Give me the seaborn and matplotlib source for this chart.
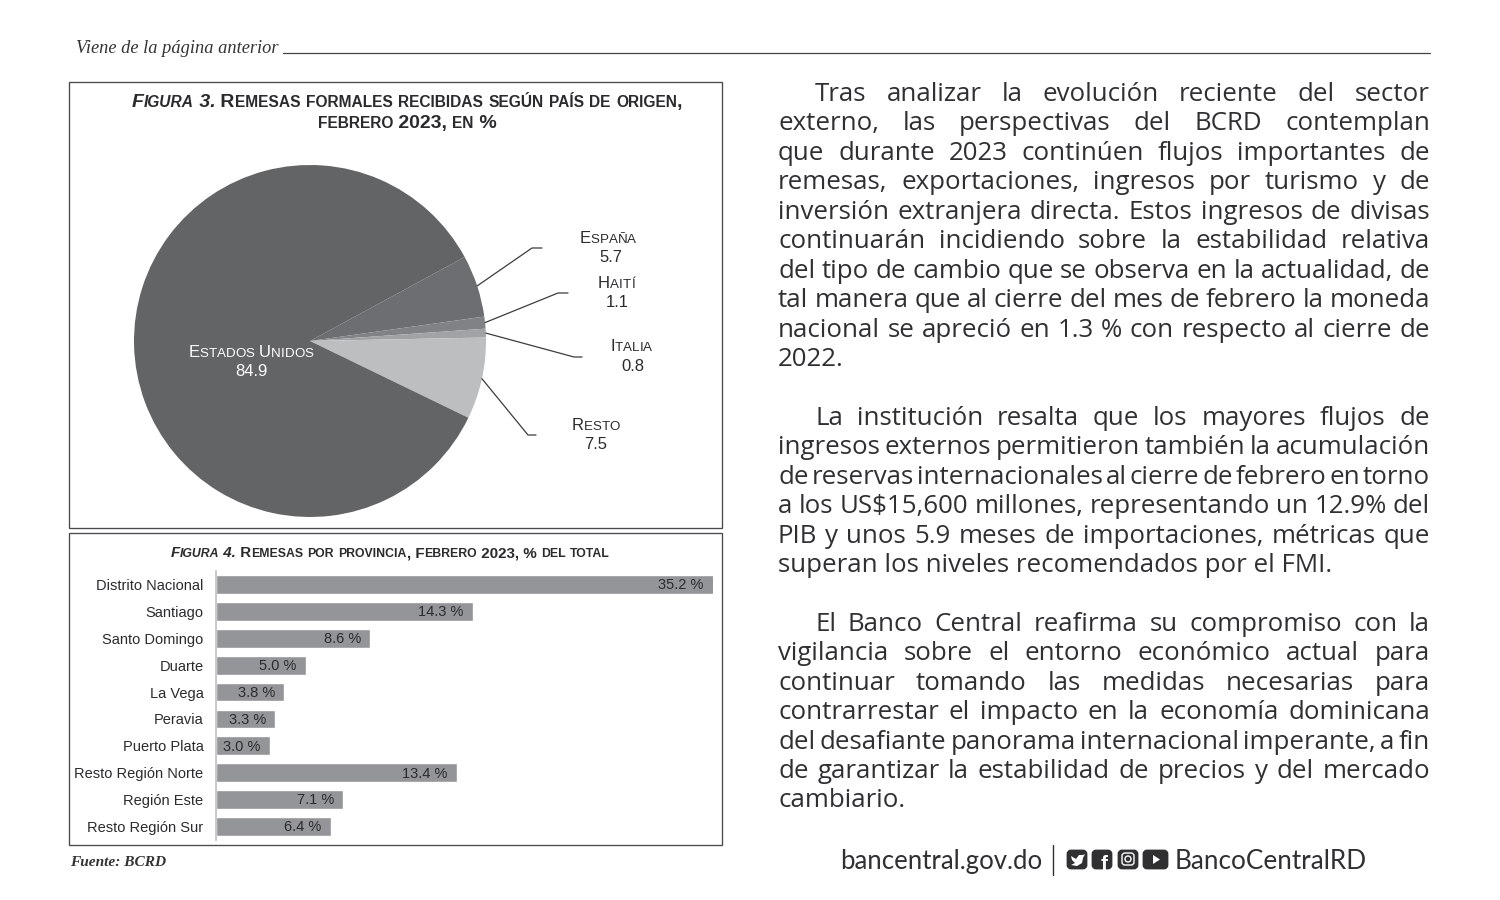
import matplotlib
matplotlib.use("Agg")
import numpy as np
import matplotlib.pyplot as plt
import seaborn as sns
from matplotlib.patches import Rectangle, FancyBboxPatch, Circle, Polygon

# data
paises = ["España", "Haití", "Italia", "Resto", "Estados Unidos"]
pais_vals = [5.7, 1.1, 0.8, 7.5, 84.9]
pais_cols = ["#6d6e71", "#808285", "#a0a2a5", "#bcbec0", "#636466"]
provincias = ["Distrito Nacional", "Santiago", "Santo Domingo", "Duarte", "La Vega", "Peravia",
              "Puerto Plata", "Resto Región Norte", "Región Este", "Resto Región Sur"]
prov_vals = [35.2, 14.3, 8.6, 5.0, 3.8, 3.3, 3.0, 13.4, 7.1, 6.4]

parrafo1 = ["Tras analizar la evolución reciente del sector",
            "externo, las perspectivas del BCRD contemplan",
            "que durante 2023 continúen flujos importantes de",
            "remesas, exportaciones, ingresos por turismo y de",
            "inversión extranjera directa. Estos ingresos de divisas",
            "continuarán incidiendo sobre la estabilidad relativa",
            "del tipo de cambio que se observa en la actualidad, de",
            "tal manera que al cierre del mes de febrero la moneda",
            "nacional se apreció en 1.3 % con respecto al cierre de",
            "2022."]
parrafo2 = ["La institución resalta que los mayores flujos de",
            "ingresos externos permitieron también la acumulación",
            "de reservas internacionales al cierre de febrero en torno",
            "a los US$15,600 millones, representando un 12.9% del",
            "PIB y unos 5.9 meses de importaciones, métricas que",
            "superan los niveles recomendados por el FMI."]
parrafo3 = ["El Banco Central reafirma su compromiso con la",
            "vigilancia sobre el entorno económico actual para",
            "continuar tomando las medidas necesarias para",
            "contrarrestar el impacto en la economía dominicana",
            "del desafiante panorama internacional imperante, a fin",
            "de garantizar la estabilidad de precios y del mercado",
            "cambiario."]

W, H = 1500, 900
TXT = "#303032"
sns.set_theme(style="white")
plt.rcParams["font.family"] = ["Liberation Sans", "DejaVu Sans"]

fig = plt.figure(figsize=(15, 9), dpi=100, facecolor="white")


def px_axes(x0, y0, x1, y1, **kw):
    return fig.add_axes([x0 / W, 1 - y1 / H, (x1 - x0) / W, (y1 - y0) / H], **kw)


page = px_axes(0, 0, W, H, zorder=5)
page.set_xlim(0, W)
page.set_ylim(H, 0)
page.axis("off")
page.patch.set_alpha(0)
rend = fig.canvas.get_renderer()


def ancho(s, **kw):
    # width with spaces kept, measured between two x
    a = page.text(0, 0, "x" + s + "x", **kw)
    b = page.text(0, 0, "xx", **kw)
    w = a.get_window_extent(rend).width - b.get_window_extent(rend).width
    a.remove()
    b.remove()
    return w


def versalitas(s, cx, y, big, small, color="#2b2b2d", italic_until=0):
    # small caps written run by run, centred on cx
    runs = []
    for i, ch in enumerate(s):
        sz = small if ch.islower() else big
        st = "italic" if i < italic_until else "normal"
        if runs and runs[-1][1] == sz and runs[-1][2] == st:
            runs[-1][0] += ch.upper()
        else:
            runs.append([ch.upper(), sz, st])
    ws = [ancho(r[0], fontsize=r[1], fontstyle=r[2], fontweight="bold") for r in runs]
    x = cx - sum(ws) / 2
    for r, w in zip(runs, ws):
        page.text(x, y, r[0], fontsize=r[1], fontstyle=r[2], fontweight="bold",
                  color=color, va="baseline", ha="left")
        x += w


def justificado(lineas, y0, paso, size=18.6, fam="Open Sans"):
    for i, linea in enumerate(lineas):
        y = y0 + i * paso
        x0 = 778 + (37 if i == 0 else 0)
        pal = linea.split(" ")
        kw = dict(fontsize=size, family=fam, color=TXT, fontweight="medium")
        if i == len(lineas) - 1:
            page.text(x0, y, linea, va="baseline", ha="left", **kw)
            continue
        ws = [ancho(p, **kw) for p in pal]
        gap = (1430 - x0 - sum(ws)) / (len(pal) - 1)
        x = x0
        for p, w in zip(pal, ws):
            page.text(x, y, p, va="baseline", ha="left", **kw)
            x += w + gap


# header
page.text(76, 53, "Viene de la página anterior", family="Liberation Serif", fontstyle="italic",
          fontsize=13.2, color="#333333", va="baseline")
page.plot([283, 1430], [53, 53], color="#444444", lw=0.9)

# chart frames
for x0, y0, x1, y1 in [(69, 82, 722, 528), (69, 533, 722, 845)]:
    page.add_patch(Rectangle((x0, y0), x1 - x0, y1 - y0, fill=False, ec="#4a4a4c", lw=0.95))

versalitas("Figura 3. Remesas formales recibidas según país de origen,", 407, 107, 14, 11.2, italic_until=9)
versalitas("febrero 2023, en %", 407, 128, 14, 11.2)

# pie
R = 176
ax_pie = px_axes(310 - R, 341 - R, 310 + R, 341 + R)
ax_pie.axis("off")
wedges, _ = ax_pie.pie(pais_vals, colors=pais_cols, startangle=28.5, counterclock=False,
                       radius=1, wedgeprops=dict(lw=0))
ax_pie.set_xlim(-1, 1)
ax_pie.set_ylim(-1, 1)

# leader lines, start taken from the wedge middle
codos = {"España": (532, 248, 542), "Haití": (558, 293, 568), "Italia": (574, 357, 582), "Resto": (528, 435, 536)}
for w, p in zip(wedges, paises):
    if p not in codos:
        continue
    a = np.deg2rad((w.theta1 + w.theta2) / 2)
    xs, ys = 310 + R * np.cos(a), 341 - R * np.sin(a)
    xc, yc, xe = codos[p]
    page.plot([xs, xc, xe], [ys, yc, yc], color="#3c3c3e", lw=0.9)

etiquetas = {"España": (608, 243, 611, 262), "Haití": (616, 288, 617, 307), "Italia": (631, 351, 633, 371),
             "Resto": (596, 430, 596, 449), "Estados Unidos": (251, 357, 251, 376)}
for p, v in zip(paises, pais_vals):
    cx, y1, cx2, y2 = etiquetas[p]
    col = "white" if p == "Estados Unidos" else "#2b2b2d"
    runs = [(c.upper(), 9.6 if c.islower() else 12) for c in p]
    tot = sum(ancho(c, fontsize=s) for c, s in runs)
    x = cx - tot / 2
    for c, s in runs:
        page.text(x, y1, c, fontsize=s, color=col, va="baseline")
        x += ancho(c, fontsize=s)
    page.text(cx2, y2, f"{v}", fontsize=12, color=col, ha="center", va="baseline")

# bars
versalitas("Figura 4. Remesas por provincia, Febrero 2023, % del total", 390, 557, 10.9, 8.85, italic_until=9)
ax_bar = px_axes(216, 571, 713, 840)
ax_bar.patch.set_alpha(0)
sns.barplot(x=prov_vals, y=provincias, color="#939598", saturation=1, width=0.7, ax=ax_bar)
ax_bar.set_xlim(0, 497 / 17.95)
ax_bar.set_ylim(9.5, -0.5)
sns.despine(ax=ax_bar, top=True, right=True, bottom=True, left=False)
ax_bar.spines["left"].set_color("#bcbec0")
ax_bar.spines["left"].set_linewidth(1.2)
ax_bar.xaxis.set_visible(False)
ax_bar.tick_params(axis="y", length=0, pad=9, labelsize=10.5, labelcolor="#2b2b2d")
xmax = ax_bar.get_xlim()[1]
for i, v in enumerate(prov_vals):
    ax_bar.text(min(v, xmax) - 0.52, i + 0.03, f"{v:.1f} %", ha="right", va="center",
                fontsize=10.5, color="#2b2b2d")

page.text(70, 866, "Fuente: BCRD", family="Liberation Serif", fontstyle="italic", fontweight="bold",
          fontsize=11.1, color="#333333", va="baseline")

# body text
justificado(parrafo1, 101, 29.45)
justificado(parrafo2, 425, 29.4)
justificado(parrafo3, 631, 29.4)

# footer
page.text(840, 869, "bancentral.gov.do", family="Lato", fontsize=18.5, color=TXT, va="baseline")
page.plot([1053, 1053], [845, 875], color=TXT, lw=1)
for x0 in [1067, 1092, 1118, 1143]:
    wd = 25 if x0 == 1143 else 20
    page.add_patch(FancyBboxPatch((x0 + 1, 851), wd - 2, 17, boxstyle="round,pad=0,rounding_size=3",
                                  fc=TXT, ec=TXT, lw=2))
# twitter bird, rough shape
page.add_patch(Polygon([[1071, 856], [1076, 859], [1079, 855], [1083, 855], [1085, 854], [1083, 858],
                        [1082, 863], [1077, 866], [1071, 865], [1075, 863], [1072, 860]],
                       fc="white", ec="none"))
page.text(1104, 870, "f", fontsize=15, fontweight="bold", color="white", ha="center", va="baseline")
page.add_patch(FancyBboxPatch((1122, 853), 12, 12, boxstyle="round,pad=0,rounding_size=3",
                              fill=False, ec="white", lw=1))
page.add_patch(Circle((1128, 859), 3, fill=False, ec="white", lw=1))
page.add_patch(Polygon([[1153, 855], [1153, 864], [1160, 859.5]], fc="white", ec="none"))
page.text(1175, 869, "BancoCentralRD", family="Lato", fontsize=18.8, color=TXT, va="baseline")

fig.savefig("out.png", dpi=100, facecolor="white")
